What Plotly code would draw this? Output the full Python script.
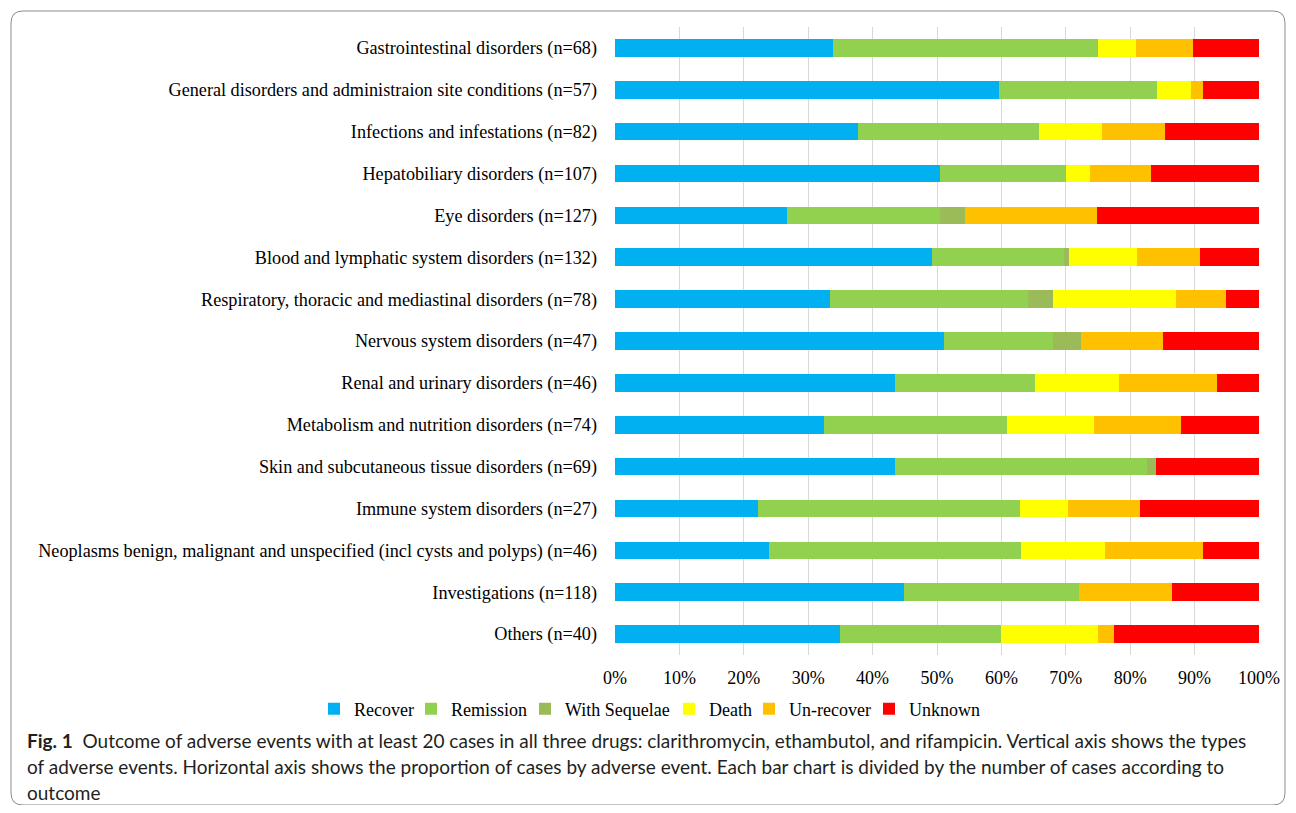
import plotly.graph_objects as go

categories = [
    "Gastrointestinal disorders (n=68)",
    "General disorders and administraion site conditions (n=57)",
    "Infections and infestations (n=82)",
    "Hepatobiliary disorders (n=107)",
    "Eye disorders (n=127)",
    "Blood and lymphatic system disorders (n=132)",
    "Respiratory, thoracic and mediastinal disorders (n=78)",
    "Nervous system disorders (n=47)",
    "Renal and urinary disorders (n=46)",
    "Metabolism and nutrition disorders (n=74)",
    "Skin and subcutaneous tissue disorders (n=69)",
    "Immune system disorders (n=27)",
    "Neoplasms benign, malignant and unspecified (incl cysts and polyps) (n=46)",
    "Investigations (n=118)",
    "Others (n=40)",
]

recover       = [23, 34, 31, 54, 34, 65, 26, 24, 20, 24, 30, 6, 11, 53, 14]
remission     = [28, 14, 23, 21, 30, 27, 24, 8, 10, 21, 27, 11, 18, 32, 10]
with_sequelae = [0, 0, 0, 0, 5, 1, 3, 2, 0, 0, 1, 0, 0, 0, 0]
death         = [4, 3, 8, 4, 0, 14, 15, 0, 6, 10, 0, 2, 6, 0, 6]
un_recover    = [6, 1, 8, 10, 26, 13, 6, 6, 7, 10, 0, 3, 7, 17, 1]
unknown       = [7, 5, 12, 18, 32, 12, 4, 7, 3, 9, 11, 5, 4, 16, 9]

tick_vals = [0, 10, 20, 30, 40, 50, 60, 70, 80, 90, 100]
tick_text = ["0%", "10%", "20%", "30%", "40%", "50%", "60%", "70%", "80%", "90%", "100%"]

series = [
    ("Recover", recover, "#00B0F0"),
    ("Remission", remission, "#92D050"),
    ("With Sequelae", with_sequelae, "#9BBB59"),
    ("Death", death, "#FFFF00"),
    ("Un-recover", un_recover, "#FFC000"),
    ("Unknown", unknown, "#FF0000"),
]

# page offset (browser body margin)
O = 8
W, H = 1296 - 2 * O, 813 - 2 * O
L, R, T, B = 615 - O, 1259 - O, 27 - O, 655 - O

def px(x):
    return (x - O - L) / (R - L)

def py(y):
    return (B - (y - O)) / (B - T)

serif = "Liberation Serif, Times New Roman, serif"
cap_font = "Lato, Roboto, sans-serif"

# legend text start positions in the reference (page pixels)
legend_text_x = [350, 447, 561, 705, 785, 905]

fig = go.Figure()
for i, (name, vals, col) in enumerate(series):
    fig.add_trace(go.Bar(
        y=categories, x=vals, name=name, orientation="h",
        marker=dict(color=col, line=dict(width=0)),
        legend="legend" if i == 0 else f"legend{i + 1}",
    ))

layout = dict(
    width=W, height=H,
    barmode="stack", barnorm="percent", bargap=0.58,
    paper_bgcolor="white", plot_bgcolor="white",
    margin=dict(l=L, r=W - R, t=T, b=H - B, autoexpand=False),
    font=dict(family=serif, size=18, color="#000000"),
    xaxis=dict(
        range=[0, 100], tickvals=tick_vals, ticktext=tick_text,
        showgrid=True, gridcolor="#D9D9D9", gridwidth=1, zeroline=False,
        showline=False, ticks="", ticklabelstandoff=10,
        tickfont=dict(family=serif, size=18, color="#000"),
    ),
    yaxis=dict(
        autorange="reversed", showgrid=False, ticks="", showline=False,
        ticklabelstandoff=17, tickfont=dict(family=serif, size=18.2, color="#000"),
    ),
    showlegend=True,
)
for i, tx in enumerate(legend_text_x):
    key = "legend" if i == 0 else f"legend{i + 1}"
    layout[key] = dict(
        orientation="h", x=px(tx - 36), y=py(709), xanchor="left", yanchor="middle",
        font=dict(family=serif, size=18, color="#000"),
        bgcolor="rgba(0,0,0,0)", borderwidth=0, itemwidth=30,
    )
fig.update_layout(**layout)

# rounded border around figure
x0, x1, y0, y1, r = 11, 1285, 11, 805, 12
def P(x, y):
    return f"{px(x):.5f},{py(y):.5f}"
path = (f"M {P(x0 + r, y0)} L {P(x1 - r, y0)} Q {P(x1, y0)} {P(x1, y0 + r)} "
        f"L {P(x1, y1 - r)} Q {P(x1, y1)} {P(x1 - r, y1)} "
        f"L {P(x0 + r, y1)} Q {P(x0, y1)} {P(x0, y1 - r)} "
        f"L {P(x0, y0 + r)} Q {P(x0, y0)} {P(x0 + r, y0)} Z")
fig.add_shape(type="path", path=path, xref="paper", yref="paper",
              line=dict(color="#8C8C8C", width=1), fillcolor="rgba(0,0,0,0)")

cap_lines = [
    "<b>Fig. 1</b>  Outcome of adverse events with at least 20 cases in all three drugs: clarithromycin, ethambutol, and rifampicin. Vertical axis shows the types",
    "of adverse events. Horizontal axis shows the proportion of cases by adverse event. Each bar chart is divided by the number of cases according to",
    "outcome",
]
for i, t in enumerate(cap_lines):
    fig.add_annotation(
        text=t, xref="paper", yref="paper", x=px(25), y=py(740.5 + i * 26),
        xanchor="left", yanchor="middle", showarrow=False,
        font=dict(family=cap_font, size=19, color="#231F20"),
    )

fig.write_html("out.html")
